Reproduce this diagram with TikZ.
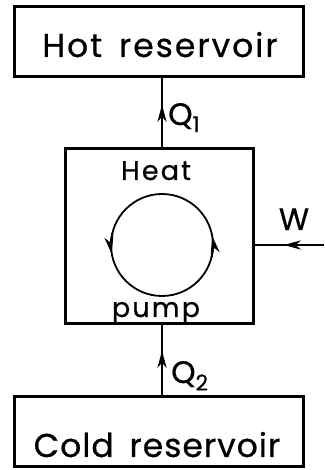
\documentclass[tikz,border=0pt]{standalone}
\usepackage{fontspec}
\setmainfont{Poppins}[FakeBold=0.6]
\usetikzlibrary{arrows.meta,calc}
\begin{document}
\begin{tikzpicture}[x=1pt,y=1pt,
  >={Stealth[length=17pt,width=9pt,inset=5pt]},
  box/.style={draw,line width=3pt,inner sep=0pt},
  flow/.style={line width=2.4pt},
  lbl/.style={font=\fontsize{27}{29}\selectfont\addfontfeatures{LetterSpace=8},inner sep=0pt,anchor=base},
  qlbl/.style={font=\fontsize{31}{33}\selectfont,inner sep=0pt,anchor=base west},
  big/.style={font=\fontsize{33}{35}\selectfont\addfontfeatures{LetterSpace=6},inner sep=0pt,anchor=base}]
\useasboundingbox (0,0) rectangle (324,470);
\node[box,minimum width=289pt,minimum height=70pt] (hot) at (158.5,428) {};
\node[big] (hott) at (160,413) {Hot\hspace{6pt} reservoir};
\node[box,minimum width=188pt,minimum height=175pt] (pump) at (159,233.5) {};
\node[box,minimum width=289pt,minimum height=70pt] (cold) at (158.5,38) {};
\node[big,font=\fontsize{33}{35}\selectfont\addfontfeatures{LetterSpace=3}] (coldt) at (157,13) {Cold\hspace{6pt} reservoir};
\node[lbl] (heat) at (156,290) {Heat};
\node[lbl] (pumpt) at (156,153) {pump};
\coordinate (c) at (162,225);
\draw[line width=1.8pt] (c) circle[radius=51pt];
\draw[line width=1.8pt,->] ($(c)+(-14:51pt)$) arc[start angle=-14,end angle=10,radius=51pt];
\draw[line width=1.8pt,->] ($(c)+(166:51pt)$) arc[start angle=166,end angle=190,radius=51pt];
\coordinate (p1) at (pump.north -| c);
\coordinate (h1) at (hot.south -| c);
\draw[flow] (p1) -- (h1);
\draw[flow,->] (p1) -- ($(p1)!0.62!(h1)$);
\coordinate (c1) at (cold.north -| c);
\coordinate (p2) at (pump.south -| c);
\draw[flow] (c1) -- (p2);
\draw[flow,->] (c1) -- ($(c1)!0.64!(p2)$);
\node[qlbl] (q1) at (168,345) {Q\textsubscript{1}};
\node[qlbl] (q2) at (171,87) {Q\textsubscript{2}};
\coordinate (wend) at (324,225);
\coordinate (wstart) at (pump.east |- wend);
\draw[flow] (wend) -- (wstart);
\draw[flow,->] (wend) -- ($(wend)!0.58!(wstart)$);
\node[lbl,font=\fontsize{31}{33}\selectfont] (w) at (294,240) {W};
\end{tikzpicture}
\end{document}
